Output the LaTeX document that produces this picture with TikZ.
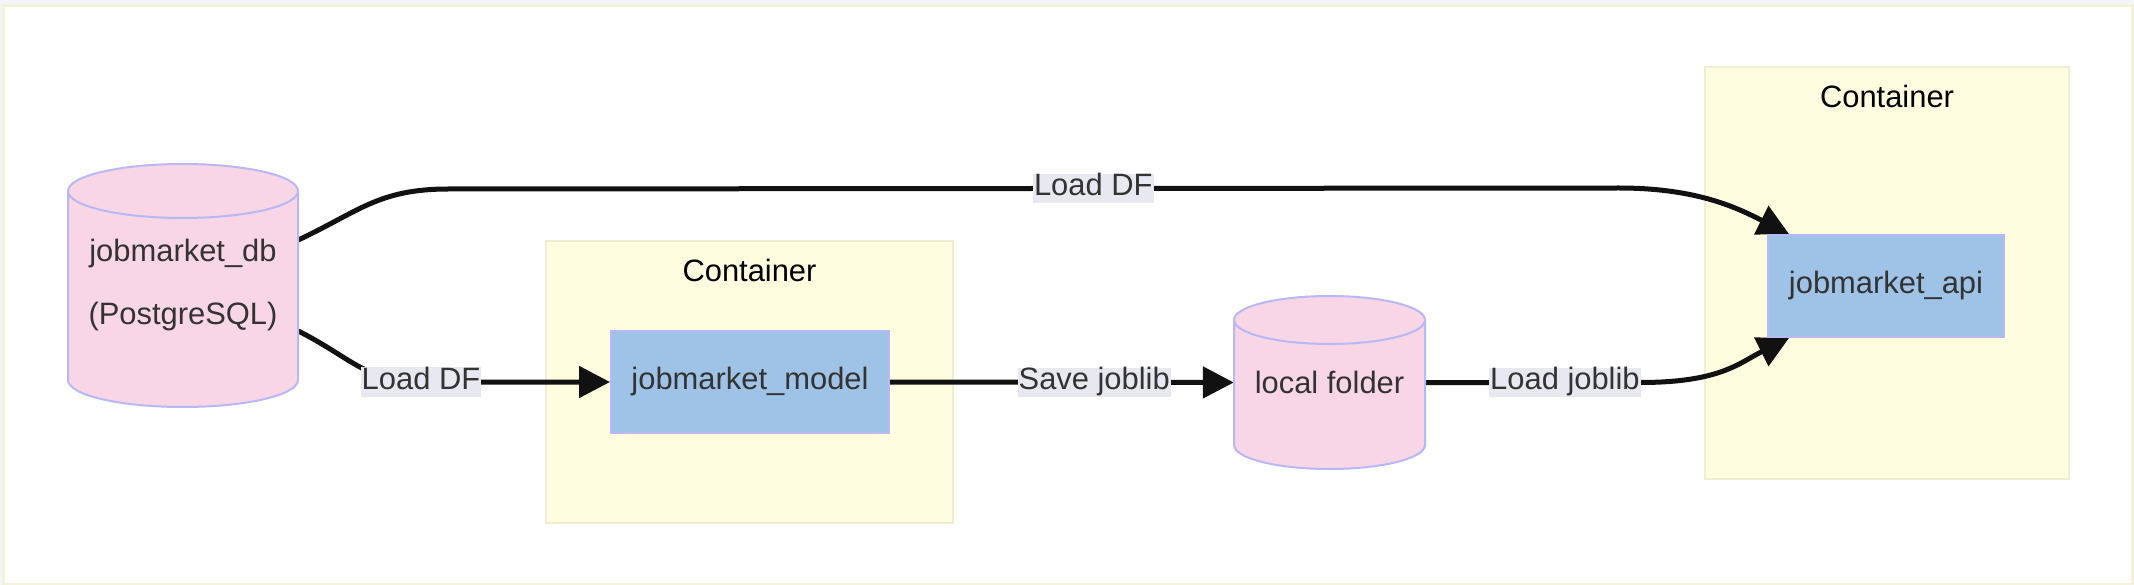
\documentclass[tikz,border=0pt]{standalone}
\usepackage{fontspec}
\setmainfont{Liberation Sans}
\usepackage[dvipsnames]{xcolor}
\definecolor{STOREfill}{HTML}{F8D6E6}
\definecolor{NODEfill}{HTML}{9FC3E6}
\definecolor{NODEline}{HTML}{B8B8F6}
\definecolor{BOXfill}{HTML}{FFFDE0}
\definecolor{BOXline}{HTML}{F0EED2}
\definecolor{LBLfill}{HTML}{E8E8F0}
\definecolor{FRAMEline}{HTML}{F3F3DC}
\definecolor{PAGEfill}{HTML}{F3F5FB}
\definecolor{TXTcolor}{HTML}{333333}
\definecolor{FLOWcolor}{HTML}{111111}
\usepackage{tikz}
\usetikzlibrary{math,arrows.meta,positioning}
\pgfdeclarelayer{back}
\pgfdeclarelayer{edges}
\pgfsetlayers{back,edges,main}

\begin{document}
\begin{tikzpicture}[x=1pt, y=1pt]

    \tikzset{%
        diatext/.style={text=TXTcolor, font=\fontsize{30.9}{37}\selectfont},
        service/.style={diatext, draw=NODEline, fill=NODEfill, line width=2pt,
                inner sep=0pt, minimum height=102pt},
        container/.style={draw=BOXline, fill=BOXfill, line width=2.5pt, inner sep=0pt},
        boxtitle/.style={text=black, font=\fontsize{30.9}{37}\selectfont, inner sep=0pt},
        edgelbl/.style={diatext, fill=LBLfill, inner xsep=1pt, inner ysep=0pt,
                text height=22pt, text depth=7.5pt},
        flow/.style={draw=FLOWcolor, line width=5pt,
                -{Triangle[length=31pt, width=31pt]}},
        pics/store/.style args={#1/#2/#3/#4}{%
                code={%

                        \tikzmath{%
                            \rx=#1/2;
                            \hy=#2/2;
                            \ytop=\hy-#3;
                            \ybot=-\hy+#3;
                        };

                        \filldraw [draw=NODEline, fill=STOREfill, line width=2pt]
                            (-\rx, \ytop) -- (-\rx, \ybot)
                            arc [start angle=180, end angle=360, x radius=\rx pt, y radius=#3pt]
                            -- (\rx, \ytop)
                            arc [start angle=0, end angle=180, x radius=\rx pt, y radius=#3pt]
                            -- cycle;
                        \draw [NODEline, line width=2pt] (-\rx, \ytop)
                            arc [start angle=180, end angle=360, x radius=\rx pt, y radius=#3pt];
                        \node [text=TXTcolor, font=\fontsize{30.9}{63}\selectfont, align=center,
                            inner sep=0pt, minimum width=#1pt, minimum height=#2pt] (-box) {#4};

                    }
            }
    }

    \useasboundingbox (0, 0) rectangle (2134, -585);

    % page and containers
    \begin{pgfonlayer}{back}
        \fill [PAGEfill] (0, 0) rectangle (2134, -585);
        \filldraw [draw=FRAMEline, fill=white, line width=3pt] (3.5, -5.5) rectangle (2132.5, -584.5);
        \node [container, minimum width=407pt, minimum height=282pt] (cmodel) at (749.5, -382) {};
        \node [container, minimum width=364pt, minimum height=412pt] (capi) at (1887, -273) {};
        \node [boxtitle] (tmodel) at ([yshift=-31pt]cmodel.north) {Container};
        \node [boxtitle] (tapi) at ([yshift=-31pt]capi.north) {Container};
    \end{pgfonlayer}

    % stores and services
    \pic (db) at (183, -285.5) {store=230/243/27/{jobmarket\_db\\(PostgreSQL)}};
    \pic (folder) at (1329.5, -382.5) {store=191/173/24/{local folder}};
    \node [service, minimum width=278pt] (model) at (750, -382) {jobmarket\_model};
    \node [service, minimum width=236pt] (api) at (1886, -286) {jobmarket\_api};

    % flows
    \begin{pgfonlayer}{edges}
        \draw [flow] ([yshift=-45.5pt]db-box.east) .. controls +(52pt, -26pt) and +(-55pt, 0pt) .. ([xshift=-189pt]model.west)
            node [edgelbl] {Load DF} -- (model.west);
        \draw [flow] ([yshift=45.5pt]db-box.east) .. controls +(60pt, 28pt) and +(-70pt, 0pt) .. ([shift={(150pt, 96.5pt)}]db-box.east)
            -- node [edgelbl, pos=0.551] {Load DF} ([shift={(-148pt, 46pt)}]api.north west)
            .. controls +(80pt, 0pt) and +(-50pt, 25pt) .. ([xshift=22pt]api.north west);
        \draw [flow] (model.east) -- node [edgelbl, pos=0.594] {Save joblib} (folder-box.west);
        \draw [flow] (folder-box.east) -- node [edgelbl, pos=0.65] {Load joblib} ([xshift=215pt]folder-box.east)
            .. controls +(80pt, 0pt) and +(-50pt, -25pt) .. ([xshift=22pt]api.south west);
    \end{pgfonlayer}

\end{tikzpicture}
\end{document}
